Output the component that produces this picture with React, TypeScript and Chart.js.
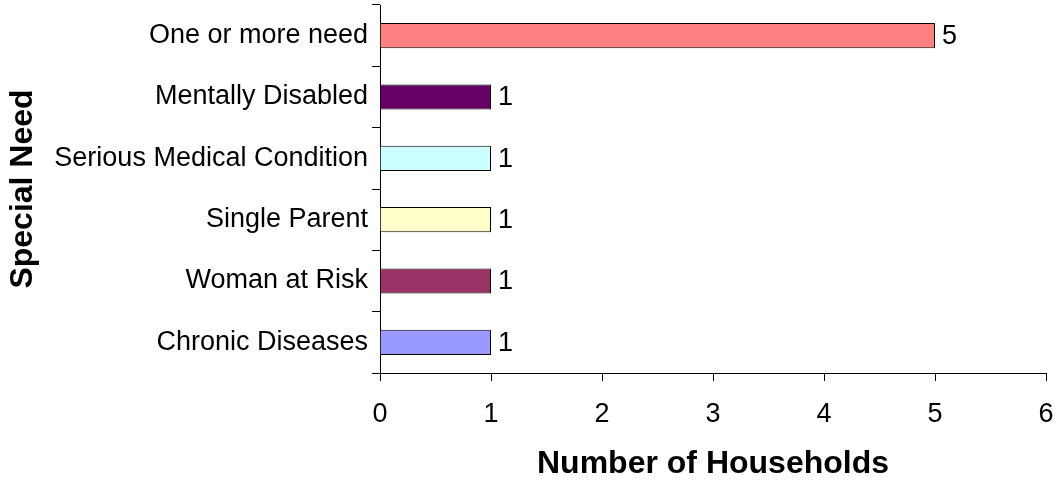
import React, { useEffect, useRef } from "react";
import Chart from "chart.js/auto";

const categories = [
  "One or more need",
  "Mentally Disabled",
  "Serious Medical Condition",
  "Single Parent",
  "Woman at Risk",
  "Chronic Diseases",
];
const households = [5, 1, 1, 1, 1, 1];
const barColors = ["#FF8080", "#660066", "#CCFFFF", "#FFFFCC", "#993366", "#9999FF"];
const xTicks = [0, 1, 2, 3, 4, 5, 6];

const FONT = "'Liberation Sans', Arial, sans-serif";

const valueLabels = {
  id: "valueLabels",
  afterDatasetsDraw(chart: any) {
    const ctx = chart.ctx;
    const meta = chart.getDatasetMeta(0);
    ctx.save();
    ctx.font = `27px ${FONT}`;
    ctx.fillStyle = "#000";
    ctx.textAlign = "left";
    ctx.textBaseline = "middle";
    meta.data.forEach((bar: any, i: number) => {
      ctx.fillText(String(households[i]), bar.x + 7, bar.y + 1);
    });
    ctx.restore();
  },
};

function zeroPad(scale: any) {
  scale.paddingTop = 0;
  scale.paddingBottom = 0;
  scale.paddingLeft = 0;
  scale.paddingRight = 0;
}

export default function App() {
  const ref = useRef<HTMLCanvasElement>(null);
  useEffect(() => {
    if (!ref.current) return;
    const chart = new Chart(ref.current, {
      type: "bar",
      data: {
        labels: categories,
        datasets: [
          {
            data: households,
            backgroundColor: barColors,
            borderColor: "#000",
            borderWidth: 1,
            barPercentage: 0.41,
            categoryPercentage: 1,
          },
        ],
      },
      options: {
        indexAxis: "y",
        responsive: false,
        animation: false,
        layout: { padding: { top: 5, right: 9, left: 0, bottom: 0 } },
        plugins: {
          legend: { display: false },
          tooltip: { enabled: false },
        },
        scales: {
          y: {
            type: "category",
            offset: true,
            grid: {
              offset: true,
              drawOnChartArea: false,
              drawTicks: true,
              tickLength: 8,
              color: "#000",
            },
            border: { display: true, color: "#000", width: 1 },
            ticks: {
              color: "#000",
              font: { family: FONT, size: 27 },
              padding: 4,
            },
            title: {
              display: true,
              text: "Special Need",
              color: "#000",
              font: { family: FONT, size: 32, weight: "bold" },
              padding: { top: 4, bottom: 0 },
            },
            afterFit(scale: any) {
              scale.width = 380;
              zeroPad(scale);
            },
          },
          x: {
            type: "linear",
            min: 0,
            max: 6,
            afterBuildTicks(scale: any) {
              scale.ticks = xTicks.map((v) => ({ value: v }));
            },
            grid: {
              drawOnChartArea: false,
              drawTicks: true,
              tickLength: 8,
              color: "#000",
            },
            border: { display: true, color: "#000", width: 1 },
            ticks: {
              color: "#000",
              font: { family: FONT, size: 27 },
              padding: 17,
              maxRotation: 0,
            },
            title: {
              display: true,
              text: "Number of Households",
              color: "#000",
              font: { family: FONT, size: 32, weight: "bold" },
              padding: { top: 0, bottom: 0 },
            },
            afterFit(scale: any) {
              scale.height = 110;
              zeroPad(scale);
            },
          },
        },
      },
      plugins: [valueLabels],
    });
    return () => chart.destroy();
  }, []);
  return (
    <div style={{ position: "fixed", left: 0, top: 0, width: 1055, height: 483, background: "#fff" }}>
      <canvas ref={ref} width={1055} height={483} style={{ display: "block" }} />
    </div>
  );
}
